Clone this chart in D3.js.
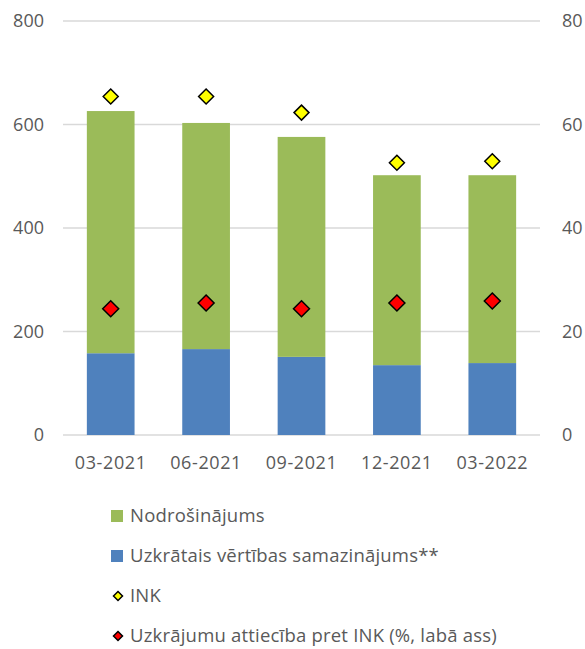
<!DOCTYPE html>
<html>
<head>
<meta charset="utf-8">
<script src="https://cdn.jsdelivr.net/npm/d3@7"></script>
<style>
    body { margin: 0; background: #fff; }
    svg text { font-family: "Open Sans", sans-serif; fill: #595959; }
</style>
</head>
<body>
<svg id="chart" width="585" height="649"></svg>
<script>
// Chart data.
const periods = ['03-2021', '06-2021', '09-2021', '12-2021', '03-2022'];
const impairment = [158, 166, 151, 135, 139];
const collateral = [468, 437, 425, 367, 363];
const ink = [654, 654, 623, 526, 529];
const ratio = [24.4, 25.5, 24.4, 25.5, 25.9];

const leftTicks = [0, 200, 400, 600, 800];
const rightTicks = [0, 20, 40, 60, 80];

const legendLabels = [
    'Nodrošinājums',
    'Uzkrātais vērtības samazinājums**',
    'INK',
    'Uzkrājumu attiecība pret INK (%, labā ass)'
];

const colors = { collateral: '#9BBB59', impairment: '#4F81BD', ink: '#FFFF00', ratio: '#FF0000' };

const margin = { left: 63, right: 45, top: 21, bottom: 214 };
const width = 585 - margin.left - margin.right;
const height = 649 - margin.top - margin.bottom;

const svg = d3.select('#chart');
const g = svg.append('g').attr('transform', `translate(${margin.left},${margin.top})`);

const x = d3.scaleBand().domain(periods).range([0, width]).paddingInner(0.5).paddingOuter(0.25);
const yLeft = d3.scaleLinear().domain([0, 800]).range([height, 0]);
const yRight = d3.scaleLinear().domain([0, 80]).range([height, 0]);

// Gridlines
g.append('g')
    .selectAll('line')
    .data(leftTicks)
    .join('line')
    .attr('x1', 0)
    .attr('x2', width)
    .attr('y1', d => yLeft(d))
    .attr('y2', d => yLeft(d))
    .attr('stroke', '#D9D9D9')
    .attr('stroke-width', 1.5);

// Left axis labels
g.append('g')
    .selectAll('text')
    .data(leftTicks)
    .join('text')
    .attr('x', -19)
    .attr('y', d => yLeft(d))
    .attr('dy', '0.35em')
    .attr('text-anchor', 'end')
    .attr('font-size', 18)
    .text(d => d);

// Right axis labels
g.append('g')
    .selectAll('text')
    .data(rightTicks)
    .join('text')
    .attr('x', width + 22)
    .attr('y', d => yRight(d))
    .attr('dy', '0.35em')
    .attr('text-anchor', 'start')
    .attr('font-size', 18)
    .text(d => d);

// Stacked bars
const rows = periods.map((p, i) => ({ period: p, impairment: impairment[i], collateral: collateral[i] }));
const stack = d3.stack().keys(['impairment', 'collateral'])(rows);

g.append('g')
    .selectAll('g')
    .data(stack)
    .join('g')
    .attr('fill', d => colors[d.key])
    .selectAll('rect')
    .data(d => d)
    .join('rect')
    .attr('x', d => x(d.data.period))
    .attr('width', x.bandwidth())
    .attr('y', d => yLeft(d[1]))
    .attr('height', d => yLeft(d[0]) - yLeft(d[1]));

// X labels
g.append('g')
    .selectAll('text')
    .data(periods)
    .join('text')
    .attr('x', d => x(d) + x.bandwidth() / 2)
    .attr('y', height + 28)
    .attr('dy', '0.35em')
    .attr('text-anchor', 'middle')
    .attr('font-size', 18)
    .attr('letter-spacing', 0.6)
    .text(d => d);

const diamond = s => `M0,${-s}L${s},0L0,${s}L${-s},0Z`;

// INK markers (left axis)
g.append('g')
    .selectAll('path')
    .data(ink)
    .join('path')
    .attr('transform', (d, i) => `translate(${x(periods[i]) + x.bandwidth() / 2},${yLeft(d)})`)
    .attr('d', diamond(7.5))
    .attr('fill', colors.ink)
    .attr('stroke', '#000')
    .attr('stroke-width', 1.5);

// Ratio markers (right axis)
g.append('g')
    .selectAll('path')
    .data(ratio)
    .join('path')
    .attr('transform', (d, i) => `translate(${x(periods[i]) + x.bandwidth() / 2},${yRight(d)})`)
    .attr('d', diamond(8))
    .attr('fill', colors.ratio)
    .attr('stroke', '#000')
    .attr('stroke-width', 1.5);

// Legend
const legend = svg.append('g').attr('transform', 'translate(111,516)');
const item = legend.selectAll('g')
    .data(legendLabels)
    .join('g')
    .attr('transform', (d, i) => `translate(0,${i * 40})`);

item.filter((d, i) => i < 2)
    .append('rect')
    .attr('x', 0)
    .attr('y', -6)
    .attr('width', 12)
    .attr('height', 12)
    .attr('fill', (d, i) => i === 0 ? colors.collateral : colors.impairment);

item.filter((d, i) => i >= 2)
    .append('path')
    .attr('transform', 'translate(7,0)')
    .attr('d', diamond(4.5))
    .attr('fill', (d, i) => i === 0 ? colors.ink : colors.ratio)
    .attr('stroke', '#000')
    .attr('stroke-width', 1.5);

item.append('text')
    .attr('x', 19)
    .attr('y', 0)
    .attr('dy', '0.35em')
    .attr('font-size', 18.5)
    .attr('letter-spacing', 0.2)
    .text(d => d);
</script>
</body>
</html>
